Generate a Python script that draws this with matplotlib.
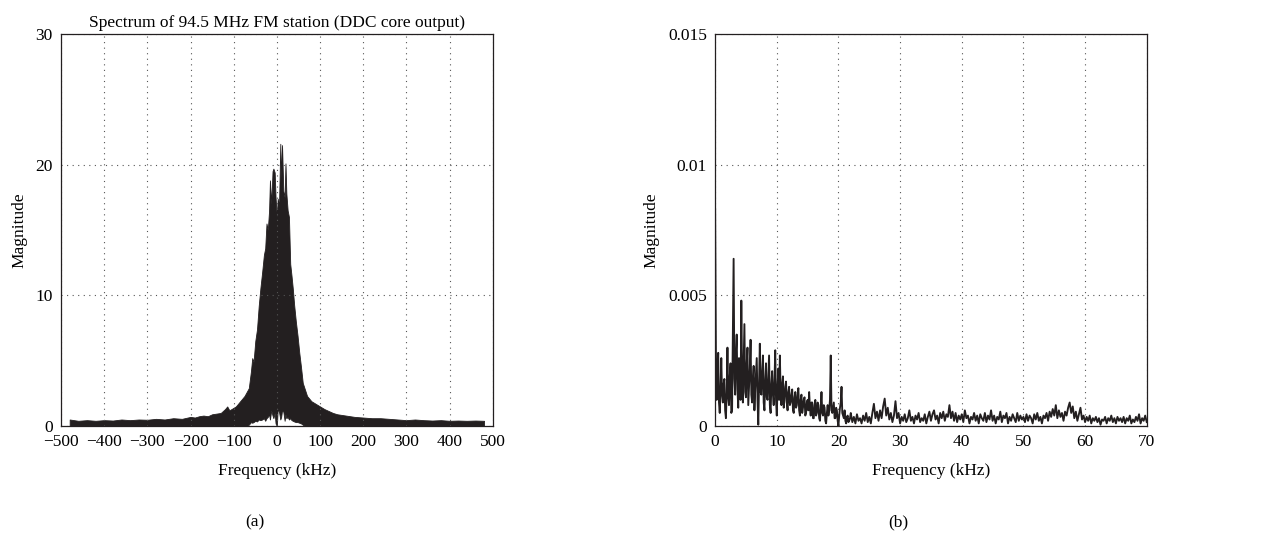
import numpy as np
import matplotlib
matplotlib.use("Agg")
import matplotlib.pyplot as plt

plt.rcParams['font.family'] = ['Liberation Serif', 'DejaVu Serif']
plt.rcParams['axes.unicode_minus'] = True

INK = '#231f20'

# (a) spectrum of the DDC output: upper and lower envelope of the dense trace
freq_a = [-480, -460, -440, -420, -400, -380, -360, -340, -320, -300, -280, -260, -240, -220,
          -200, -190, -180, -170, -160, -150, -140, -130, -120, -115, -110, -100, -95, -90,
          -85, -80, -75, -70, -65, -60, -57, -54, -50, -46, -42, -38, -34, -30, -27, -24,
          -21, -18, -16, -13, -10, -8, -5, -3, 0, 2, 5, 8, 10, 12, 15, 18, 20, 22, 25, 28,
          31, 34, 37, 40, 44, 48, 52, 56, 60, 65, 70, 75, 80, 90, 100, 110, 120, 130, 140,
          150, 160, 170, 180, 200, 220, 240, 260, 280, 300, 320, 340, 360, 380, 400, 420,
          440, 460, 480]
upper_a = [0.5, 0.4, 0.45, 0.4, 0.45, 0.42, 0.5, 0.45, 0.5, 0.48, 0.55, 0.5, 0.6, 0.55,
           0.7, 0.65, 0.75, 0.8, 0.75, 0.9, 0.95, 1.0, 1.3, 1.5, 1.2, 1.4, 1.5, 1.7,
           1.9, 2.1, 2.3, 2.6, 2.9, 4.2, 5.2, 4.9, 6.5, 7.4, 9.2, 10.6, 11.8, 13.1, 13.6, 15.5,
           15.0, 16.5, 18.8, 17.0, 19.5, 19.7, 19.4, 17.5, 16.0, 17.4, 16.8, 21.6, 19.0, 21.5,
           18.0, 17.5, 20.1, 17.8, 16.5, 16.0,
           12.4, 11.5, 10.5, 9.3, 8.0, 6.9, 5.6, 4.5, 3.3, 2.8, 2.3, 2.1, 1.9, 1.7, 1.5, 1.3,
           1.15, 1.0, 0.9,
           0.85, 0.8, 0.75, 0.7, 0.65, 0.6, 0.6, 0.55, 0.5, 0.45, 0.5, 0.45, 0.42, 0.45, 0.4,
           0.42, 0.4, 0.42, 0.4]
lower_a = [0, 0, 0, 0, 0, 0, 0, 0, 0, 0, 0, 0, 0, 0,
           0, 0, 0, 0, 0, 0, 0, 0, 0, 0, 0, 0, 0, 0,
           0, 0, 0, 0, 0.1, 0.3, 0.25, 0.3, 0.4, 0.35, 0.5, 0.45, 0.5, 0.6, 0.4, 0.6,
           0.7, 0.9, 0.5, 1.2, 0.8, 0.6, 1.0, 0.2, 0.0, 1.3, 1.1, 0.5, 0.7, 1.2,
           1.1, 0.4, 0.9, 0.6, 0.7, 0.5,
           0.6, 0.45, 0.4, 0.35, 0.3, 0.3, 0.25, 0.2, 0.1, 0, 0, 0, 0, 0, 0, 0,
           0, 0, 0,
           0, 0, 0, 0, 0, 0, 0, 0, 0, 0, 0, 0, 0, 0, 0,
           0, 0, 0, 0]
xticks_a = [-500, -400, -300, -200, -100, 0, 100, 200, 300, 400, 500]
yticks_a = [0, 10, 20, 30]

# (b) demodulated baseband spectrum (x 1e-3)
# 0 to 21.875 kHz in 0.125 kHz steps
mag_b_fine = [
    8.3, 2.9, 1.0, 2.2, 2.8, 0.9, 0.5, 1.4, 2.6, 1.2, 0.9, 1.6, 1.8, 0.6, 0.3, 1.3, 3.0, 1.1, 0.8, 1.9,
    2.4, 0.5, 0.6, 3.5, 6.4, 1.8, 1.2, 2.8, 3.5, 1.4, 0.7, 2.6, 2.2, 1.0, 4.8, 1.9, 0.9, 2.5, 3.9, 1.3,
    1.1, 2.4, 3.0, 0.8, 1.5, 2.2, 3.3, 1.2, 0.9, 1.8, 2.3, 0.6, 1.4, 2.0, 2.6, 1.0, 0.05, 1.7, 3.15, 1.3,
    1.2, 2.1, 2.7, 0.9, 0.6, 1.8, 2.4, 1.1, 1.0, 1.9, 2.7, 0.8, 0.5, 1.6, 2.1, 1.2, 0.8, 1.7, 2.9, 1.0,
    0.4, 1.5, 2.2, 1.0, 2.7, 1.3, 0.8, 1.6, 1.9, 0.7, 1.0, 1.5, 1.7, 0.9, 0.6, 1.3, 1.5, 0.8, 0.9, 1.2,
    1.4, 0.6, 0.5, 1.1, 1.3, 0.7, 0.8, 1.2, 1.45, 0.6, 0.4, 1.0, 1.2, 0.5, 0.7, 1.0, 1.1, 0.4, 0.5, 0.9,
    1.0, 0.6, 1.3, 0.7, 0.4, 0.9, 0.9, 0.3, 0.3, 0.8, 1.0, 0.4, 0.5, 0.9, 0.8, 0.3, 0.2, 0.7, 1.3, 0.5,
    0.4, 0.8, 0.7, 0.2, 0.1, 0.5, 0.8, 0.4, 0.6, 1.0, 2.7, 0.6, 0.5, 0.7, 0.9, 0.3, 0.3, 0.7, 0.6, 0.2,
    0.0, 0.4, 0.7, 0.9, 1.5, 0.5, 0.4, 0.3, 0.6, 0.2, 0.1, 0.35, 0.4, 0.15, 0.2, 0.3,
]
# 22 to 70 kHz in 0.25 kHz steps
mag_b_coarse = [
    0.5, 0.15, 0.35, 0.1, 0.45, 0.2, 0.3, 0.1, 0.4, 0.2, 0.5, 0.15,
    0.35, 0.1, 0.5, 0.85, 0.3, 0.55, 0.2, 0.6, 0.3, 0.75, 1.05, 0.4, 0.7, 0.25, 0.5, 0.15, 0.4, 0.95, 0.3, 0.5,
    0.1, 0.35, 0.2, 0.45, 0.15, 0.3, 0.6, 0.2, 0.35, 0.1, 0.4, 0.25, 0.5, 0.15, 0.3, 0.2, 0.45, 0.1, 0.35, 0.55,
    0.2, 0.45, 0.6, 0.25, 0.4, 0.1, 0.5, 0.3, 0.55, 0.2, 0.45, 0.35, 0.8, 0.3, 0.55, 0.2, 0.5, 0.15, 0.4, 0.25,
    0.45, 0.15, 0.6, 0.3, 0.4, 0.1, 0.35, 0.25, 0.5, 0.2, 0.4, 0.1, 0.45, 0.3, 0.2, 0.5, 0.15, 0.4, 0.25, 0.6,
    0.2, 0.4, 0.1, 0.35, 0.25, 0.55, 0.15, 0.4, 0.3, 0.5, 0.1, 0.35, 0.2, 0.45, 0.3, 0.15, 0.5, 0.2, 0.4, 0.25,
    0.35, 0.15, 0.45, 0.2, 0.4, 0.3, 0.1, 0.45, 0.25, 0.5, 0.2, 0.35, 0.1, 0.4, 0.3, 0.5, 0.2, 0.55, 0.35, 0.65,
    0.4, 0.8, 0.3, 0.6, 0.35, 0.5, 0.2, 0.55, 0.4, 0.7, 0.9, 0.5, 0.75, 0.3, 0.55, 0.2, 0.45, 0.7, 0.25, 0.4,
    0.15, 0.35, 0.2, 0.4, 0.1, 0.3, 0.2, 0.35, 0.15, 0.3, 0.05, 0.25, 0.2, 0.35, 0.1, 0.3, 0.2, 0.4, 0.15, 0.3,
    0.1, 0.35, 0.2, 0.3, 0.15, 0.35, 0.1, 0.3, 0.2, 0.4, 0.1, 0.25, 0.15, 0.35, 0.2, 0.45, 0.1, 0.3, 0.2, 0.4,
    0.15,
]
freq_b = np.concatenate([np.arange(len(mag_b_fine)) * 0.125,
                         22 + np.arange(len(mag_b_coarse)) * 0.25])
mag_b = np.array(mag_b_fine + mag_b_coarse) * 1e-3
xticks_b = [0, 10, 20, 30, 40, 50, 60, 70]
yticks_b = [0, 0.005, 0.01, 0.015]
ytick_labels_b = ['0', '0.005', '0.01', '0.015']

fig = plt.figure(figsize=(12.77, 5.54), dpi=100)
ax1 = fig.add_axes([0.0478, 0.231, 0.338, 0.7076])
ax2 = fig.add_axes([0.560, 0.231, 0.338, 0.7076])

ax1.fill_between(freq_a, lower_a, upper_a, color=INK, lw=0.6)
ax1.set_xlim(-500, 500)
ax1.set_ylim(0, 30)
ax1.set_xticks(xticks_a)
ax1.set_yticks(yticks_a)
ax1.set_title('Spectrum of 94.5 MHz FM station (DDC core output)', fontsize=12.5, pad=5)

ax2.plot(freq_b, mag_b, color=INK, lw=1.35)
ax2.set_xlim(0, 70)
ax2.set_ylim(0, 0.015)
ax2.set_xticks(xticks_b)
ax2.set_yticks(yticks_b)
ax2.set_yticklabels(ytick_labels_b)

for ax in (ax1, ax2):
    ax.grid(True, color='#555555', linestyle=(0, (1, 4)), lw=0.8)
    ax.tick_params(length=0, labelsize=12.5, pad=6)
    ax.set_xlabel('Frequency (kHz)', fontsize=12.5, labelpad=9)
    ax.set_ylabel('Magnitude', fontsize=12.5, labelpad=6)
    for s in ax.spines.values():
        s.set_color(INK)
        s.set_linewidth(0.9)

fig.text(255 / 1277, 1 - 522 / 554, '(a)', ha='center', va='center', fontsize=12.5)
fig.text(898 / 1277, 1 - 522 / 554, '(b)', ha='center', va='center', fontsize=12.5)

fig.savefig('out.png', dpi=100)
